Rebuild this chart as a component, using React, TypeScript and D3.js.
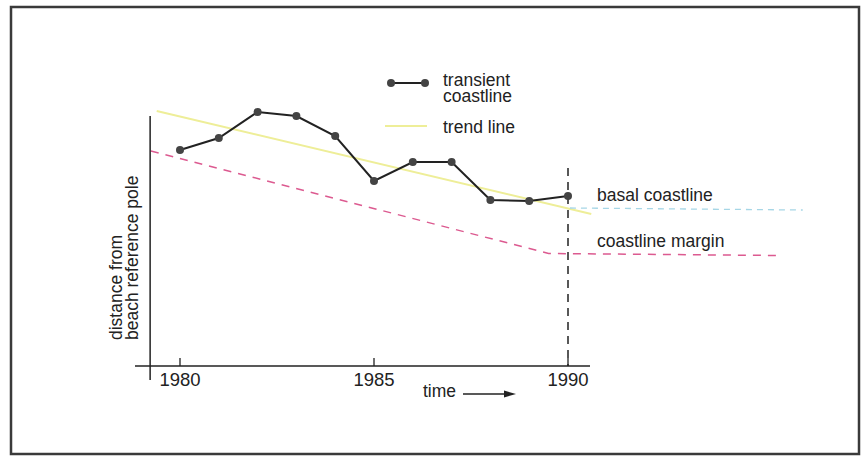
import React from "react";
import * as d3 from "d3";

const years = [1980, 1981, 1982, 1983, 1984, 1985, 1986, 1987, 1988, 1989, 1990];
const transient = [216, 228, 254, 250, 230, 185, 204, 204, 166, 165, 170];
const trendYears = [1979.4, 1990.6];
const trendValues = [255, 152];
const marginYears = [1979.25, 1989.5, 1995.45];
const marginValues = [215, 112.5, 110.5];
const basalYears = [1990.05, 1996.05];
const basalValues = [158, 156];
const tickYears = [1980, 1985, 1990];

const FONT = "'Liberation Sans', Arial, Helvetica, sans-serif";

export default function App() {
  const x = d3.scaleLinear().domain([1980, 1990]).range([180, 568]);
  const y = d3.scaleLinear().domain([0, 250]).range([366, 116]);

  const line = d3
    .line<[number, number]>()
    .x((d) => x(d[0]))
    .y((d) => y(d[1]));

  const transientPts: [number, number][] = years.map((yr, i) => [yr, transient[i]]);
  const trendPts: [number, number][] = trendYears.map((yr, i) => [yr, trendValues[i]]);
  const marginPts: [number, number][] = marginYears.map((yr, i) => [yr, marginValues[i]]);
  const basalPts: [number, number][] = basalYears.map((yr, i) => [yr, basalValues[i]]);

  const axisY = y(0);
  const axisX = x(1979.23);

  return (
    <svg
      width={864}
      height={459}
      style={{ position: "absolute", left: 0, top: 0, background: "#fff" }}
      fontFamily={FONT}
    >
      <rect x={0} y={0} width={864} height={459} fill="#fff" />
      <rect x={11} y={7} width={848} height={447} fill="none" stroke="#3a3a3a" strokeWidth={2.5} />

      {/* trend line */}
      <path d={line(trendPts) || ""} fill="none" stroke="#eeee98" strokeWidth={2} />

      {/* coastline margin */}
      <path d={line(marginPts) || ""} fill="none" stroke="#dc5a90" strokeWidth={1.5} strokeDasharray="8 7" />

      {/* basal coastline */}
      <path d={line(basalPts) || ""} fill="none" stroke="#a6d6e6" strokeWidth={1.3} strokeDasharray="6 5" />

      {/* vertical dashed line at 1990 */}
      <line x1={x(1990)} x2={x(1990)} y1={y(198)} y2={axisY} stroke="#222" strokeWidth={1.5} strokeDasharray="8 6" />

      {/* axes */}
      <line x1={135} x2={590} y1={axisY} y2={axisY} stroke="#222" strokeWidth={1.5} />
      <line x1={axisX + 0} x2={axisX + 0} y1={y(250)} y2={380} stroke="#222" strokeWidth={1.5} />
      {tickYears.map((t) => (
        <g key={t}>
          <line x1={x(t)} x2={x(t)} y1={axisY - 8} y2={axisY} stroke="#222" strokeWidth={1.3} />
          <text x={x(t)} y={386} textAnchor="middle" fontSize={18.5} fill="#222">
            {t}
          </text>
        </g>
      ))}

      {/* transient coastline */}
      <path d={line(transientPts) || ""} fill="none" stroke="#222" strokeWidth={2} />
      {transientPts.map((p, i) => (
        <circle key={i} cx={x(p[0])} cy={y(p[1])} r={4} fill="#444" />
      ))}

      {/* x label */}
      <text x={423} y={397} fontSize={17.5} fill="#222">time</text>
      <line x1={463} x2={506} y1={394} y2={394} stroke="#222" strokeWidth={1.5} />
      <path d="M504,390.5 L516,394 L504,397.5 Z" fill="#222" />

      {/* y label */}
      <text transform="translate(122,340) rotate(-90)" fontSize={17.5} fill="#222">distance from</text>
      <text transform="translate(138,340) rotate(-90)" fontSize={17.5} fill="#222">beach reference pole</text>

      {/* legend */}
      <line x1={391} x2={425} y1={83} y2={83} stroke="#222" strokeWidth={2} />
      <circle cx={391} cy={83} r={4} fill="#444" />
      <circle cx={425} cy={83} r={4} fill="#444" />
      <text x={443} y={86} fontSize={17.5} fill="#222">transient</text>
      <text x={443} y={102} fontSize={17.5} fill="#222">coastline</text>
      <line x1={385} x2={427} y1={126} y2={126} stroke="#eeee98" strokeWidth={2} />
      <text x={443} y={133} fontSize={17.5} fill="#222">trend line</text>

      {/* line labels */}
      <text x={597} y={201} fontSize={17.5} fill="#222">basal coastline</text>
      <text x={597} y={247} fontSize={17.5} fill="#222">coastline margin</text>
    </svg>
  );
}
